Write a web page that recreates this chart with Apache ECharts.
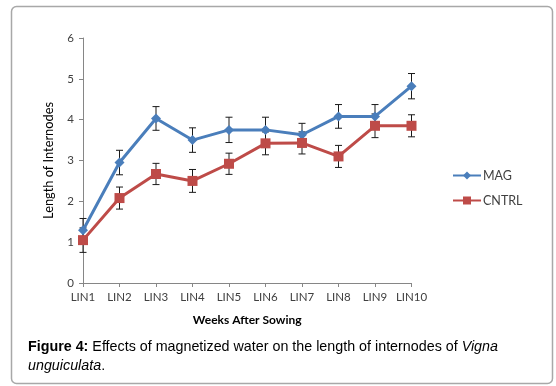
<!DOCTYPE html>
<html><head><meta charset="utf-8">
<script src="https://cdn.jsdelivr.net/npm/echarts@6/dist/echarts.min.js"></script>
<style>html,body{margin:0;padding:0;background:#fff}#c{width:556px;height:386px}</style>
</head><body><div id="c"></div>
<script>
const categories = ['LIN1','LIN2','LIN3','LIN4','LIN5','LIN6','LIN7','LIN8','LIN9','LIN10'];
const magValues = [1.29, 2.95, 4.03, 3.50, 3.75, 3.75, 3.63, 4.08, 4.08, 4.82];
const magErrors = [0.29, 0.30, 0.29, 0.30, 0.31, 0.31, 0.28, 0.29, 0.29, 0.31];
const cntrlValues = [1.05, 2.08, 2.67, 2.50, 2.92, 3.42, 3.43, 3.10, 3.85, 3.85];
const cntrlErrors = [0.30, 0.27, 0.26, 0.28, 0.26, 0.28, 0.27, 0.27, 0.29, 0.27];
const yTicks = [0, 1, 2, 3, 4, 5, 6];

const chart = echarts.init(document.getElementById('c'), null, {renderer:'canvas'});
function errData(vals, errs){ return vals.map((v,i)=>[i, v-errs[i], v+errs[i]]); }
function errRender(params, api){
  const x = api.value(0);
  const lo = api.coord([x, api.value(1)]);
  const hi = api.coord([x, api.value(2)]);
  const w = 3.5;
  const st = {stroke:'#1a1a1a', lineWidth:1};
  return {type:'group', children:[
    {type:'line', shape:{x1:lo[0],y1:lo[1],x2:hi[0],y2:hi[1]}, style:st},
    {type:'line', shape:{x1:lo[0]-w,y1:lo[1],x2:lo[0]+w,y2:lo[1]}, style:st},
    {type:'line', shape:{x1:hi[0]-w,y1:hi[1],x2:hi[0]+w,y2:hi[1]}, style:st}
  ]};
}
const lab = {fontFamily:'Lato', fontSize:11.5, color:'#404040'};
chart.setOption({
  animation:false,
  grid:{left:83, right:144.5, top:38, bottom:103, containLabel:false},
  title:{
    left:23, top:333,
    text:'{b|Figure 4:} Effects of magnetized water on the length of internodes of {i|Vigna}\n{i|unguiculata}.',
    textStyle:{fontFamily:'Liberation Sans', fontSize:14.3, fontWeight:'normal', color:'#000', lineHeight:19,
      rich:{b:{fontFamily:'Liberation Sans', fontSize:14.3, fontWeight:'bold', color:'#000'},
            i:{fontFamily:'Liberation Sans', fontSize:14.3, fontStyle:'italic', color:'#000'}}}
  },
  legend:{
    orient:'vertical', left:447, top:164, itemWidth:28, itemHeight:10, itemGap:12,
    textStyle:{fontFamily:'Lato', fontSize:12.5, color:'#404040', padding:[0,0,0,-3]},
    data:['MAG','CNTRL']
  },
  xAxis:{
    type:'category', data:categories, boundaryGap:false,
    axisLine:{lineStyle:{color:'#868686'}},
    axisTick:{show:true, length:4, lineStyle:{color:'#868686'}},
    axisLabel:Object.assign({margin:8, interval:0}, lab),
    name:'Weeks After Sowing', nameLocation:'middle', nameGap:31,
    nameTextStyle:{fontFamily:'Lato', fontSize:12, fontWeight:'bold', color:'#000'}
  },
  yAxis:{
    type:'value', min:0, max:6, interval:1,
    axisLine:{show:true, lineStyle:{color:'#868686'}},
    axisTick:{show:true, length:4, lineStyle:{color:'#868686'}},
    splitLine:{show:false},
    axisLabel:Object.assign({margin:9, formatter:v=>yTicks.includes(v)?String(v):''}, lab),
    name:'Length of Internodes', nameLocation:'middle', nameGap:28,
    nameTextStyle:{fontFamily:'Lato', fontSize:12.8, color:'#000'}
  },
  series:[
    {type:'custom', renderItem:errRender, data:errData(magValues, magErrors), encode:{x:0,y:[1,2]}, z:1, silent:true},
    {type:'custom', renderItem:errRender, data:errData(cntrlValues, cntrlErrors), encode:{x:0,y:[1,2]}, z:1, silent:true},
    {name:'MAG', type:'line', data:magValues, z:3, symbol:'diamond', symbolSize:10,
      lineStyle:{color:'#4A7EBB', width:3}, itemStyle:{color:'#4A7EBB'}},
    {name:'CNTRL', type:'line', data:cntrlValues, z:4, symbol:'rect', symbolSize:10,
      lineStyle:{color:'#BE4B48', width:3}, itemStyle:{color:'#BE4B48'}}
  ],
  graphic:[{type:'rect', shape:{x:11.5, y:6.5, width:541, height:377, r:5}, style:{fill:'none', stroke:'#a8a8a8', lineWidth:1.5}, z:-1, silent:true}]
});
</script></body></html>
